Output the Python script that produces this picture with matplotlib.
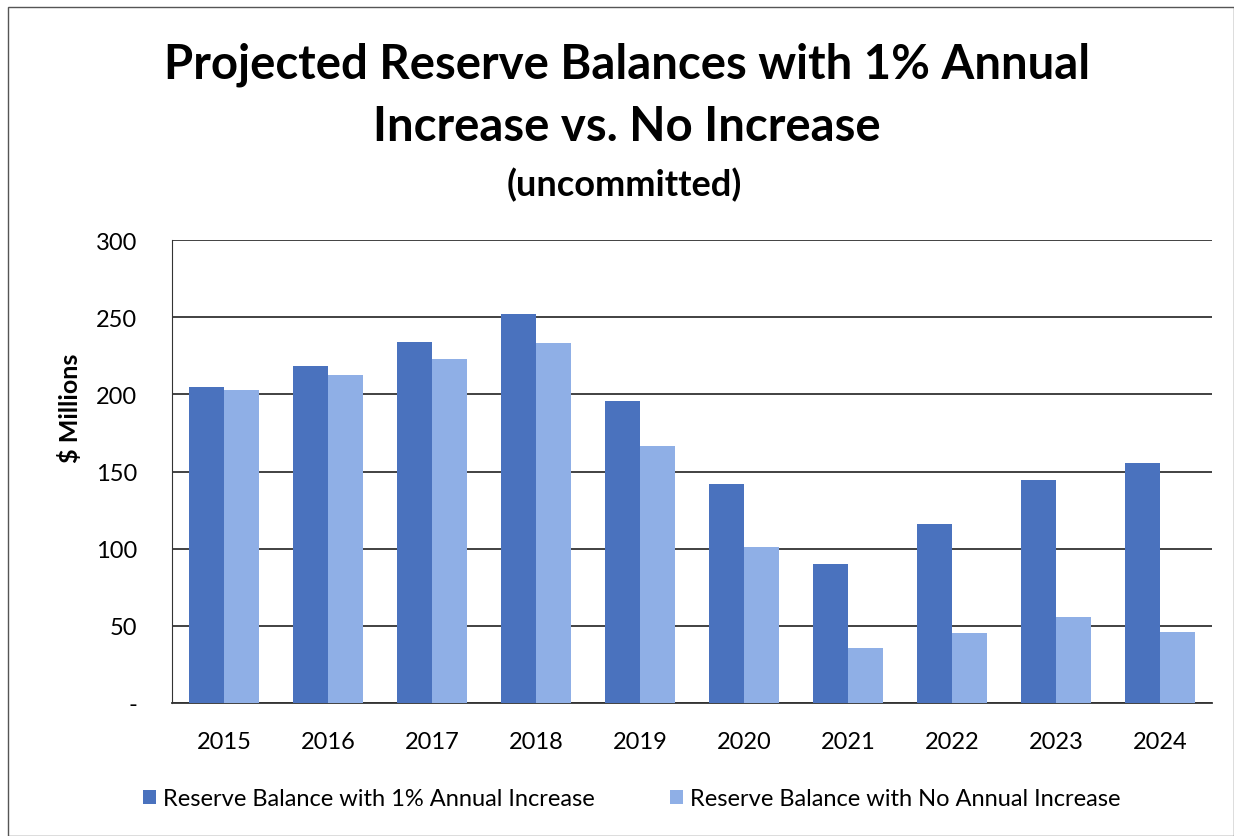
import matplotlib
matplotlib.use("Agg")
import matplotlib.pyplot as plt
import numpy as np
from matplotlib.patches import Rectangle

years = ["2015", "2016", "2017", "2018", "2019", "2020", "2021", "2022", "2023", "2024"]
with_increase = [204.6, 218.6, 234.1, 252.3, 195.7, 142.0, 90.0, 115.9, 144.6, 155.4]
no_increase = [202.6, 212.8, 222.9, 233.1, 166.8, 101.4, 35.4, 45.3, 55.5, 46.0]
yticks = [0, 50, 100, 150, 200, 250, 300]
ytick_labels = ["-", "50", "100", "150", "200", "250", "300"]
series_names = ["Reserve Balance with 1% Annual Increase", "Reserve Balance with No Annual Increase"]

plt.rcParams['font.family'] = ['Lato', 'DejaVu Sans']

fig = plt.figure(figsize=(12.34, 8.37), dpi=100)
ax = fig.add_axes([172/1234, 1-704/837, (1212-172)/1234, (704-241)/837])

x = np.arange(len(years))
w = 0.335
ax.bar(x - w/2, with_increase, w, color="#4a72be", label=series_names[0], zorder=3)
ax.bar(x + w/2, no_increase, w, color="#8fafe6", label=series_names[1], zorder=3)

ax.set_xlim(-0.5, len(years) - 0.5)
ax.set_ylim(0, 300)
ax.set_yticks(yticks)
ax.set_yticklabels(ytick_labels, fontsize=17)
ax.set_xticks(x)
ax.set_xticklabels(years, fontsize=17)
ax.tick_params(axis='x', length=0, pad=20)
ax.tick_params(axis='y', length=0, pad=25)
ax.yaxis.grid(True, color="#333333", linewidth=1.3, zorder=0)
for s in ['top', 'right']:
    ax.spines[s].set_visible(False)
ax.spines['left'].set_color("#333333")
ax.spines['bottom'].set_color("#333333")
ax.spines['bottom'].set_linewidth(1.3)
ax.set_ylabel("$ Millions", fontsize=18, fontweight='bold')
ax.yaxis.set_label_coords((82-172)/1040, (704-408)/463)

fig.text(627/1234, 1-65/837, "Projected Reserve Balances with 1% Annual", ha='center', va='center',
         fontsize=34, fontweight='bold')
fig.text(627/1234, 1-127/837, "Increase vs. No Increase", ha='center', va='center',
         fontsize=34, fontweight='bold')
fig.text(624/1234, 1-185/837, "(uncommitted)", ha='center', va='center',
         fontsize=26, fontweight='bold')

leg = fig.legend(loc='center', bbox_to_anchor=(632/1234, 1-800/837), ncol=2, frameon=False,
                 fontsize=17, handlelength=0.55, handleheight=0.55, handletextpad=0.3,
                 columnspacing=3.2)

fig.patches.append(Rectangle((8/1234, 0), 1 - 8/1234, 1 - 8/837, transform=fig.transFigure,
                             fill=False, edgecolor="#555555", linewidth=1))

fig.savefig("out.png", dpi=100)
